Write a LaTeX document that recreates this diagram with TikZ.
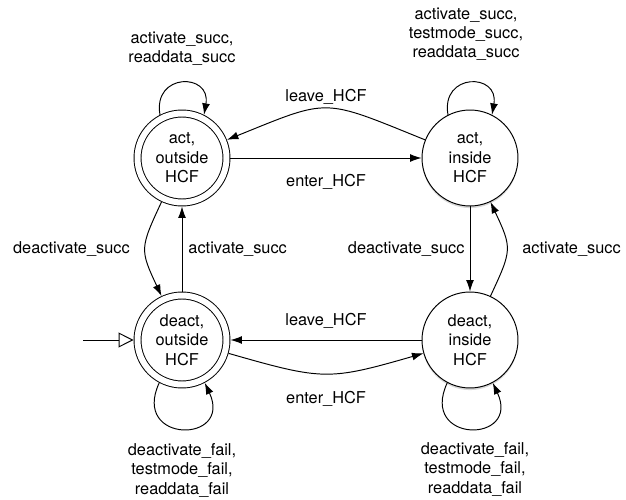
\documentclass[tikz,border=0pt]{standalone}
\usepackage{fontspec}
\setmainfont{TeX Gyre Heros}
\usepackage{tikz}
\usetikzlibrary{arrows.meta,shadows}

\begin{document}
\begin{tikzpicture}[x=0.02cm, y=0.02cm, line width=0.55pt,
    font=\fontsize{9.3}{11}\selectfont,
    >={Latex[length=6.5pt,width=4.5pt]},
    st/.style={circle, draw, fill=white, align=center, inner sep=0pt, minimum size=1.92cm,
        drop shadow={shadow xshift=0pt, shadow yshift=-1.2pt, opacity=0.3}},
    final/.style={double, double distance=0.12cm, minimum size=1.78cm, outer sep=0.08cm},
    lbl/.style={inner sep=0pt, align=center},
    toploop/.style={out=100, in=80, looseness=2.5},
    botloop/.style={out=245, in=295, looseness=3.8},
    startarrow/.style={-{Triangle[open,length=8.5pt,width=8.5pt]}}]
    \useasboundingbox (0,-500) rectangle (626,0);
    % states
    \node[st, final] (actOut) at (182,-158) {act,\\outside\\HCF};
    \node[st] (actIn) at (470,-158) {act,\\inside\\HCF};
    \node[st, final] (deactOut) at (182,-340) {deact,\\outside\\HCF};
    \node[st] (deactIn) at (470,-340) {deact,\\inside\\HCF};
    \coordinate (start) at (83,-340);
    % transitions
    \draw[->] (actOut) -- node[lbl, below=0.32cm] {enter\_HCF} (actIn);
    \draw[->] (actIn) to[bend right=22, looseness=1.45] node[lbl, above=0.06cm] {leave\_HCF} (actOut);
    \draw[->] (deactIn) -- node[lbl, above=0.22cm] {leave\_HCF} (deactOut);
    \draw[->] (deactOut) to[bend right=16, looseness=1.3] node[lbl, below=0.34cm] {enter\_HCF} (deactIn);
    \draw[->] (actOut) to[bend right=25, looseness=1.4] node[lbl, left=0.3cm] {deactivate\_succ} (deactOut);
    \draw[->] (deactOut) -- node[lbl, right=0.12cm] {activate\_succ} (actOut);
    \draw[->] (actIn) -- node[lbl, left=0.1cm] {deactivate\_succ} (deactIn);
    \draw[->] (deactIn) to[bend right=25, looseness=1.4] node[lbl, right=0.3cm] {activate\_succ} (actIn);
    % loops
    \draw[->] (actOut.117) to[toploop] node[lbl, above=0.34cm] {activate\_succ,\\readdata\_succ} (actOut.63);
    \draw[->] (actIn.117) to[toploop] node[lbl, above=0.44cm, xshift=-0.08cm] {activate\_succ,\\testmode\_succ,\\readdata\_succ} (actIn.63);
    \draw[->] (deactOut.242) to[botloop] node[lbl, below=0.29cm] {deactivate\_fail,\\testmode\_fail,\\readdata\_fail} (deactOut.298);
    \draw[->] (deactIn.242) to[botloop] node[lbl, below=0.27cm, xshift=0.1cm] {deactivate\_fail,\\testmode\_fail,\\readdata\_fail} (deactIn.298);
    \draw[startarrow] (start) -- (deactOut);
\end{tikzpicture}
\end{document}
